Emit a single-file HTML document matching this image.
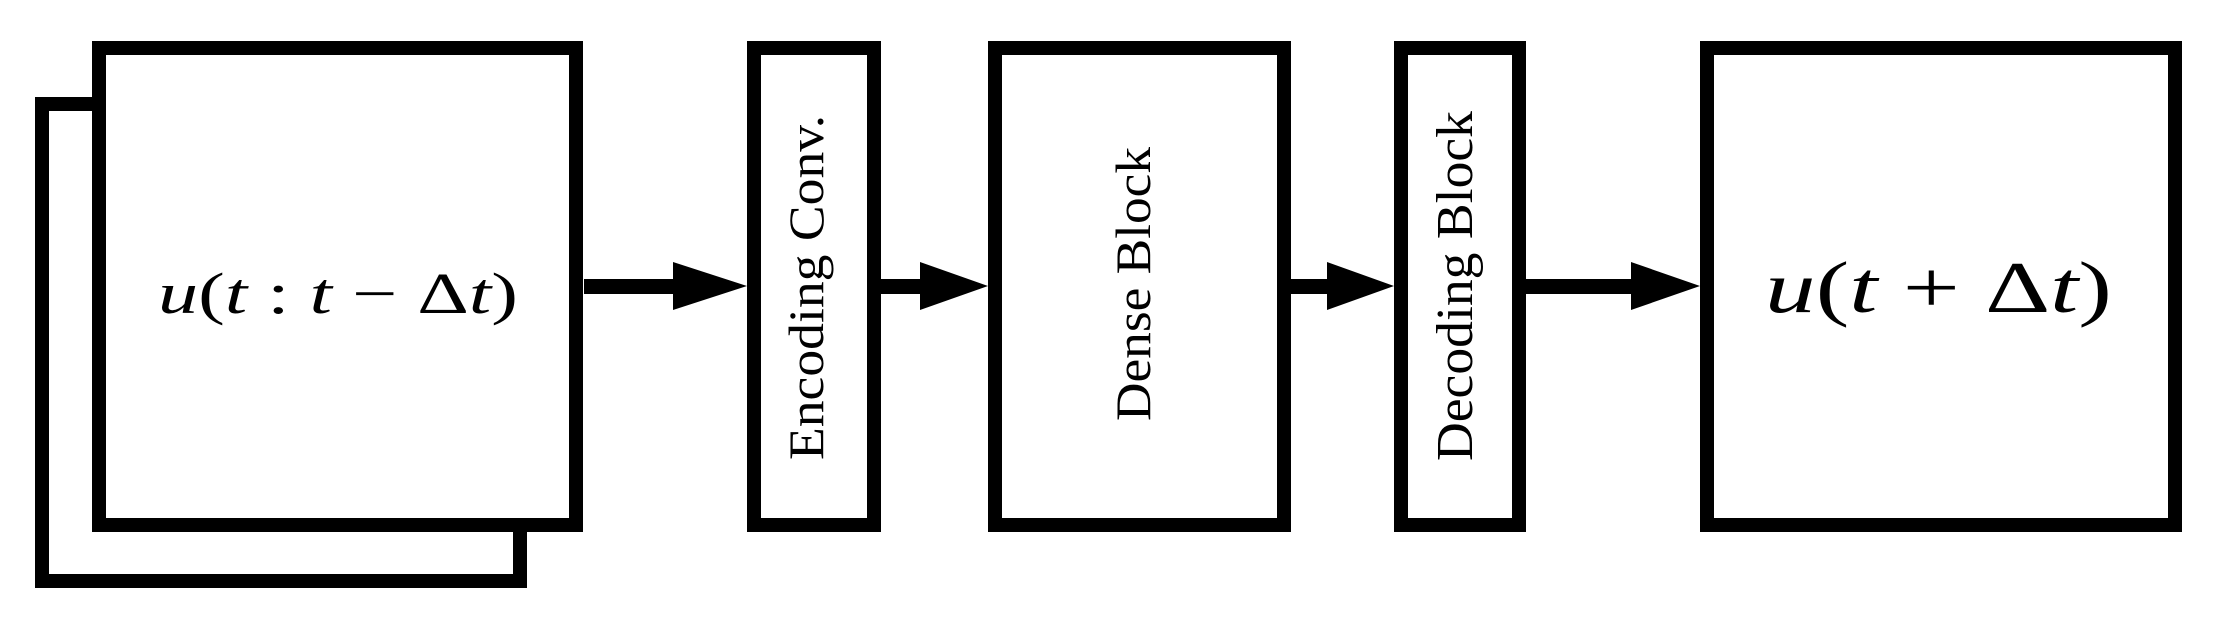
<!DOCTYPE html>
<html><head><meta charset="utf-8"><style>html,body{margin:0;padding:0;background:#fff}svg{display:block}text{font-family:"Liberation Serif","Times New Roman",serif}</style></head>
<body>
<svg width="2217" height="623" viewBox="0 0 2217 623" xmlns="http://www.w3.org/2000/svg">
<g fill="none" stroke="#000" stroke-width="14">
<path d="M92 104 H42 V581 H520 V532"/>
<rect x="99" y="48" width="477" height="477" fill="#fff"/>
<rect x="754" y="48" width="120" height="477"/>
<rect x="995" y="48" width="289" height="477"/>
<rect x="1401" y="48" width="118" height="477"/>
<rect x="1707" y="48" width="468" height="477"/>
</g>
<g fill="#000">
<rect x="584" y="279" width="92" height="15"/>
<polygon points="673,262 747,286 673,310"/>
<rect x="881" y="279" width="42" height="15"/>
<polygon points="920,262 988,286 920,310"/>
<rect x="1291" y="279" width="38" height="15"/>
<polygon points="1327,262 1394,286 1327,310"/>
<rect x="1526" y="279" width="108" height="15"/>
<polygon points="1631,262 1700,286 1631,310"/>
</g>
<g fill="#000">
<text x="158" y="313" font-size="58" textLength="360" lengthAdjust="spacingAndGlyphs"><tspan font-style="italic">u</tspan>(<tspan font-style="italic">t</tspan> : <tspan font-style="italic">t</tspan> − Δ<tspan font-style="italic">t</tspan>)</text>
<text x="1765" y="312" font-size="73" textLength="347" lengthAdjust="spacingAndGlyphs"><tspan font-style="italic">u</tspan>(<tspan font-style="italic">t</tspan> + Δ<tspan font-style="italic">t</tspan>)</text>
<text transform="translate(823,460) rotate(-90)" font-size="50" textLength="345" lengthAdjust="spacingAndGlyphs">Encoding Conv.</text>
<text transform="translate(1150,421) rotate(-90)" font-size="50" textLength="274" lengthAdjust="spacingAndGlyphs">Dense Block</text>
<text transform="translate(1472,461) rotate(-90)" font-size="52" textLength="350" lengthAdjust="spacingAndGlyphs">Decoding Block</text>
</g>
</svg>
</body></html>
